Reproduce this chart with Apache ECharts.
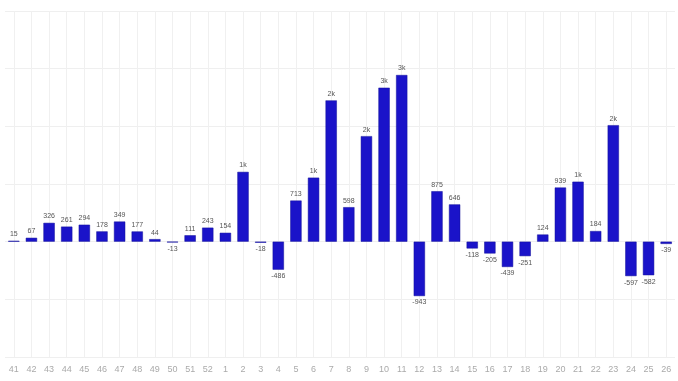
<!DOCTYPE html>
<html><head><meta charset="utf-8">
<script src="https://cdn.jsdelivr.net/npm/echarts@6/dist/echarts.min.js"></script>
<style>html,body{margin:0;padding:0;background:#fff}#c{width:678px;height:381px}</style>
</head><body><div id="c"></div>
<script>
const weeks = ['41','42','43','44','45','46','47','48','49','50','51','52','1','2','3','4','5','6','7','8','9','10','11','12','13','14','15','16','17','18','19','20','21','22','23','24','25','26'];
const values = [15,67,326,261,294,178,349,177,44,-13,111,243,154,1210,-18,-486,713,1110,2450,598,1830,2670,2890,-943,875,646,-118,-205,-439,-251,124,939,1040,184,2020,-597,-582,-39];
const yTicks = {min:-2000, max:4000, interval:1000};

function fmt(v){ return Math.abs(v) >= 1000 ? Math.round(v/1000)+'k' : String(v); }

const chart = echarts.init(document.getElementById('c'));
chart.setOption({
  animation:false,
  grid:{left:5,right:3,top:11,bottom:24},
  xAxis:{type:'category',data:weeks,boundaryGap:true,
    axisLine:{show:false},axisTick:{show:false},
    axisLabel:{color:'#aaa',fontSize:9,margin:8,fontFamily:'Liberation Sans, Arial, sans-serif',interval:0},
    splitLine:{show:true,alignWithLabel:true,lineStyle:{color:'#f0f0f0',width:1}}},
  yAxis:{type:'value',min:yTicks.min,max:yTicks.max,interval:yTicks.interval,
    axisLabel:{show:false},axisLine:{show:false},axisTick:{show:false},
    splitLine:{lineStyle:{color:'#efefef'}}},
  series:[{type:'bar',data:values.map(v=>({value:v,label:{position:v>=0?'top':'bottom'}})),
    barWidth:'64%',
    itemStyle:{color:'#1a13c9',borderColor:'#12109a',borderWidth:0.5},
    label:{show:true,fontSize:7,color:'#555',distance:3,fontFamily:'Liberation Sans, Arial, sans-serif',
      formatter:p=>fmt(p.value)}}]
});
</script></body></html>
